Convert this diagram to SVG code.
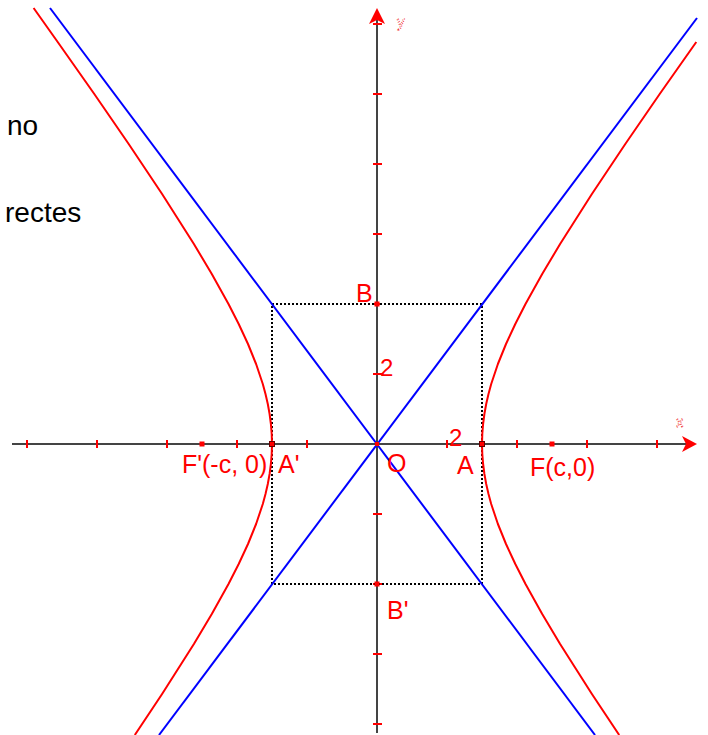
<svg xmlns="http://www.w3.org/2000/svg" width="708" height="735" viewBox="0 0 708 735">
<style>
.axis{stroke:#444;stroke-width:2;fill:none}
.tick{stroke:#f00;stroke-width:2}
.asym{stroke:#00f;stroke-width:2;fill:none}
.hyp{stroke:#f00;stroke-width:2;fill:none;stroke-linejoin:round}
.box{stroke:#000;stroke-width:2;stroke-dasharray:2 2;fill:none}
.lbl{font-family:"Liberation Sans",Arial,sans-serif;font-size:25px;fill:#f00}
.num{font-family:"Liberation Sans",Arial,sans-serif;font-size:24px;fill:#f00}
.txt{font-family:"Liberation Sans",Arial,sans-serif;font-size:28px;fill:#000}
.axl{font-family:"Liberation Sans",Arial,sans-serif;font-size:15px;fill:none;stroke:#e00;stroke-width:0.8;stroke-dasharray:1 1.5}
.pt{fill:#f00}
.ptb{fill:#f00;stroke:#600;stroke-width:1}
</style>
<rect width="708" height="735" fill="#fff"/>
<g id="axes">
<line class="axis" x1="12" y1="444" x2="690" y2="444"/>
<line class="axis" x1="377" y1="733" x2="377" y2="16"/>
<path d="M697,444 L682,436 L686,444 L682,452 Z" fill="#f00"/>
<path d="M377,8 L385,24 L377,20 L369,24 Z" fill="#f00"/>
<g id="xticks">
<line class="tick" x1="27" y1="440" x2="27" y2="448"/>
<line class="tick" x1="97" y1="440" x2="97" y2="448"/>
<line class="tick" x1="167" y1="440" x2="167" y2="448"/>
<line class="tick" x1="237" y1="440" x2="237" y2="448"/>
<line class="tick" x1="307" y1="440" x2="307" y2="448"/>
<line class="tick" x1="447" y1="440" x2="447" y2="448"/>
<line class="tick" x1="517" y1="440" x2="517" y2="448"/>
<line class="tick" x1="587" y1="440" x2="587" y2="448"/>
<line class="tick" x1="657" y1="440" x2="657" y2="448"/>
</g>
<g id="yticks">
<line class="tick" x1="373" y1="24" x2="382" y2="24"/>
<line class="tick" x1="373" y1="94" x2="382" y2="94"/>
<line class="tick" x1="373" y1="164" x2="382" y2="164"/>
<line class="tick" x1="373" y1="234" x2="382" y2="234"/>
<line class="tick" x1="373" y1="304" x2="382" y2="304"/>
<line class="tick" x1="373" y1="374" x2="382" y2="374"/>
<line class="tick" x1="373" y1="514" x2="382" y2="514"/>
<line class="tick" x1="373" y1="584" x2="382" y2="584"/>
<line class="tick" x1="373" y1="654" x2="382" y2="654"/>
<line class="tick" x1="373" y1="724" x2="382" y2="724"/>
</g>
<text class="axl" x="676" y="427">x</text>
<text class="axl" x="397" y="27">y</text>
</g>
<g id="rectangle">
<rect class="box" x="272" y="304" width="210" height="280"/>
</g>
<g id="asymptotes">
<line class="asym" x1="50" y1="8" x2="595" y2="735"/>
<line class="asym" x1="159" y1="735" x2="697" y2="18"/>
</g>
<g id="hyperbola">
<polyline class="hyp" points="696.3,42 659.7,94 625.3,144 591.9,194 560.1,244 542.2,274 525.5,304 515.3,324 506,344 497.9,364 491.2,384 488.5,394 486.2,404 484.4,414 483.1,424 482.3,434 482,444 482.3,454 483.1,464 484.4,474 486.2,484 488.5,494 491.2,504 497.9,524 506,544 515.3,564 525.5,584 542.2,614 560.1,644 591.9,694 619.2,735"/>
<polyline class="hyp" points="33.6,8 57.7,42 94.3,94 128.7,144 162.1,194 193.9,244 211.8,274 228.5,304 238.7,324 248,344 256.1,364 262.8,384 265.5,394 267.8,404 269.6,414 270.9,424 271.7,434 272,444 271.7,454 270.9,464 269.6,474 267.8,484 265.5,494 262.8,504 256.1,524 248,544 238.7,564 228.5,584 211.8,614 193.9,644 162.1,694 134.8,735"/>
</g>
<g id="points">
<rect class="pt" x="199.5" y="441.5" width="5" height="5"/>
<rect class="pt" x="549.5" y="441.5" width="5" height="5"/>
<rect class="ptb" x="269.5" y="441.5" width="5" height="5"/>
<rect class="ptb" x="479.5" y="441.5" width="5" height="5"/>
<rect class="pt" x="374.5" y="301.5" width="5" height="5"/>
<rect class="pt" x="374.5" y="581.5" width="5" height="5"/>
<rect class="pt" x="375" y="442" width="4" height="4"/>
</g>
<g id="labels">
<text class="lbl" x="182" y="473">F'(-c, 0)</text>
<text class="lbl" x="278" y="473">A'</text>
<text class="lbl" x="387" y="472">O</text>
<text class="lbl" x="457" y="474">A</text>
<text class="lbl" x="530" y="476">F(c,0)</text>
<text class="lbl" x="356" y="302">B</text>
<text class="lbl" x="387" y="619">B'</text>
<text class="num" x="380" y="376">2</text>
<text class="num" x="449" y="446">2</text>
<text class="txt" x="7" y="135">no</text>
<text class="txt" x="5" y="222">rectes</text>
</g>
</svg>
